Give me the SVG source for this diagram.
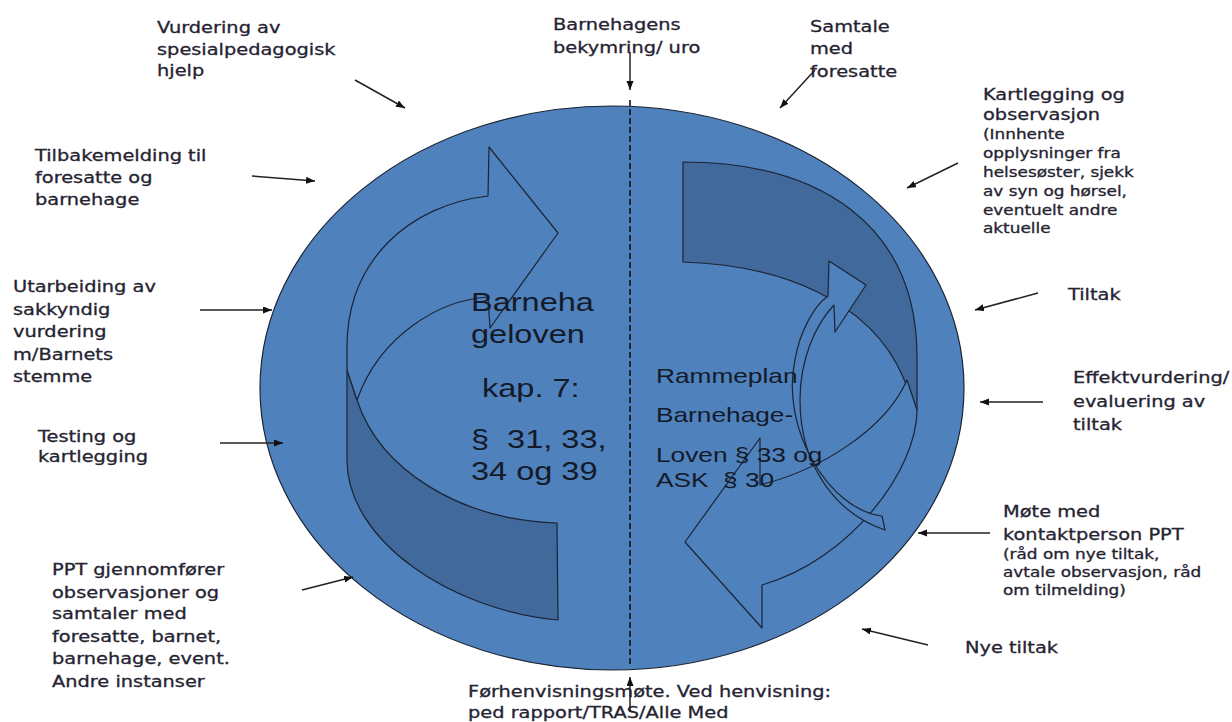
<svg xmlns="http://www.w3.org/2000/svg" width="1232" height="722" viewBox="0 0 1232 722">
<style>
.lbl{font-family:"DejaVu Sans",Verdana,sans-serif;font-size:15.5px;fill:#262432;stroke:#262432;stroke-width:0.3}
.sm{font-size:13.5px}
.law{font-family:"Liberation Sans",Arial,sans-serif;fill:#141a28}
.shape{stroke:#1c2433;stroke-width:1.2;stroke-linejoin:round}
.light{fill:#4f81bd}
.dark{fill:#41699b}
.con{stroke:#222;stroke-width:1.5;fill:none;marker-end:url(#ah)}
</style>
<defs>
<marker id="ah" markerUnits="userSpaceOnUse" markerWidth="10" markerHeight="8" refX="9" refY="3.5" orient="auto">
<path d="M0,0 L9,3.5 L0,7 z" fill="#111"/>
</marker>
</defs>
<rect width="1232" height="722" fill="#fff"/>

<g id="circle">
<ellipse cx="612" cy="388" rx="352" ry="282" class="shape light"/>
</g>

<g id="left-arrow">
<path class="shape dark" d="M357,400 C380,470 460,520 557,523 L558,620 C450,610 347,540 347,460 L347,370 Z"/>
<path class="shape light" d="M488,196 L489,147 L558,233 L490,328 L488,297 C440,300 380,335 357,400 L347,370 L347,347 C347,260 410,205 488,196 Z"/>
</g>

<g id="right-arrow">
<path class="shape dark" d="M683,162 C820,162 917,225 917,357 L917,410 L903,377 C870,300 780,265 683,262 Z"/>
<path class="shape light" d="M917,410 C917,470 850,560 762,585 L762,628 L685,542 L760,438 L760,485 C820,470 885,430 907,380 Z"/>
</g>

<g id="small-arrow">
<path class="shape light" d="M828,296 L829,261 L866,285 L835,332 L834,305 C815,325 800,360 800,400 C800,470 840,515 885,530 L882,516 C830,510 780,430 795,360 C800,330 815,305 828,296 Z"/>
</g>

<g id="divider">
<line x1="630" y1="100" x2="630" y2="665" stroke="#111" stroke-width="1.6" stroke-dasharray="6,3"/>
</g>

<g id="law-left" class="law" font-size="25">
<text transform="translate(471,311) scale(1.3,1)">Barneha</text>
<text transform="translate(471,343) scale(1.3,1)">geloven</text>
<text transform="translate(473,397) scale(1.3,1)">&#160;kap. 7:</text>
<text transform="translate(471,448) scale(1.3,1)">§ &#160;31, 33,</text>
<text transform="translate(471,480) scale(1.3,1)">34 og 39</text>
</g>

<g id="law-right" class="law" font-size="21">
<text transform="translate(656,383) scale(1.25,1)">Rammeplan</text>
<text transform="translate(656,422) scale(1.25,1)">Barnehage-</text>
<text transform="translate(656,462) scale(1.25,1)">Loven § 33 og</text>
<text transform="translate(656,487) scale(1.25,1)">ASK &#160;§ 30</text>
</g>

<g id="connectors">
<line class="con" x1="355" y1="80" x2="405" y2="108"/>
<line class="con" x1="252" y1="176" x2="315" y2="181"/>
<line class="con" x1="630" y1="52" x2="630" y2="90"/>
<line class="con" x1="815" y1="70" x2="780" y2="108"/>
<line class="con" x1="958" y1="163" x2="907" y2="188"/>
<line class="con" x1="200" y1="310" x2="272" y2="310"/>
<line class="con" x1="220" y1="443" x2="283" y2="443"/>
<line class="con" x1="302" y1="590" x2="353" y2="577"/>
<line class="con" x1="630" y1="712" x2="630" y2="677"/>
<line class="con" x1="1038" y1="293" x2="975" y2="310"/>
<line class="con" x1="1043" y1="402" x2="980" y2="402"/>
<line class="con" x1="990" y1="533" x2="918" y2="533"/>
<line class="con" x1="928" y1="645" x2="862" y2="629"/>
</g>

<g id="n-vurdering" transform="translate(157,0) scale(1.25,1)">
<text class="lbl"><tspan x="0" y="33">Vurdering av</tspan><tspan x="0" y="55">spesialpedagogisk</tspan><tspan x="0" y="76">hjelp</tspan></text>
</g>
<g id="n-tilbakemelding" transform="translate(35,0) scale(1.25,1)">
<text class="lbl"><tspan x="0" y="161">Tilbakemelding til</tspan><tspan x="0" y="183">foresatte og</tspan><tspan x="0" y="205">barnehage</tspan></text>
</g>
<g id="n-bekymring" transform="translate(553,0) scale(1.25,1)">
<text class="lbl"><tspan x="0" y="30">Barnehagens</tspan><tspan x="0" y="53">bekymring/ uro</tspan></text>
</g>
<g id="n-samtale" transform="translate(810,0) scale(1.25,1)">
<text class="lbl"><tspan x="0" y="32">Samtale</tspan><tspan x="0" y="54">med</tspan><tspan x="0" y="77">foresatte</tspan></text>
</g>
<g id="n-kartlegging" transform="translate(983,0) scale(1.25,1)">
<text class="lbl"><tspan x="0" y="100">Kartlegging og</tspan><tspan x="0" y="120">observasjon</tspan></text>
<text class="lbl sm"><tspan x="0" y="139">(Innhente</tspan><tspan x="0" y="158">opplysninger fra</tspan><tspan x="0" y="177">helsesøster, sjekk</tspan><tspan x="0" y="196">av syn og hørsel,</tspan><tspan x="0" y="215">eventuelt andre</tspan><tspan x="0" y="233">aktuelle</tspan></text>
</g>
<g id="n-utarbeiding" transform="translate(13,0) scale(1.25,1)">
<text class="lbl"><tspan x="0" y="292">Utarbeiding av</tspan><tspan x="0" y="315">sakkyndig</tspan><tspan x="0" y="337">vurdering</tspan><tspan x="0" y="360">m/Barnets</tspan><tspan x="0" y="382">stemme</tspan></text>
</g>
<g id="n-testing" transform="translate(38,0) scale(1.25,1)">
<text class="lbl"><tspan x="0" y="442">Testing og</tspan><tspan x="0" y="462">kartlegging</tspan></text>
</g>
<g id="n-ppt" transform="translate(52,0) scale(1.25,1)">
<text class="lbl"><tspan x="0" y="575">PPT gjennomfører</tspan><tspan x="0" y="598">observasjoner og</tspan><tspan x="0" y="619">samtaler med</tspan><tspan x="0" y="642">foresatte, barnet,</tspan><tspan x="0" y="664">barnehage, event.</tspan><tspan x="0" y="687">Andre instanser</tspan></text>
</g>
<g id="n-forhenvisning" transform="translate(468,0) scale(1.25,1)">
<text class="lbl"><tspan x="0" y="697">Førhenvisningsmøte. Ved henvisning:</tspan><tspan x="0" y="718">ped rapport/TRAS/Alle Med</tspan></text>
</g>
<g id="n-tiltak" transform="translate(1068,0) scale(1.25,1)">
<text class="lbl"><tspan x="0" y="300">Tiltak</tspan></text>
</g>
<g id="n-effekt" transform="translate(1073,0) scale(1.25,1)">
<text class="lbl"><tspan x="0" y="383">Effektvurdering/</tspan><tspan x="0" y="407">evaluering av</tspan><tspan x="0" y="430">tiltak</tspan></text>
</g>
<g id="n-mote" transform="translate(1003,0) scale(1.25,1)">
<text class="lbl"><tspan x="0" y="517">Møte med</tspan><tspan x="0" y="540">kontaktperson PPT</tspan></text>
<text class="lbl sm"><tspan x="0" y="559">(råd om nye tiltak,</tspan><tspan x="0" y="577">avtale observasjon, råd</tspan><tspan x="0" y="595">om tilmelding)</tspan></text>
</g>
<g id="n-nye" transform="translate(965,0) scale(1.25,1)">
<text class="lbl"><tspan x="0" y="653">Nye tiltak</tspan></text>
</g>
</svg>
